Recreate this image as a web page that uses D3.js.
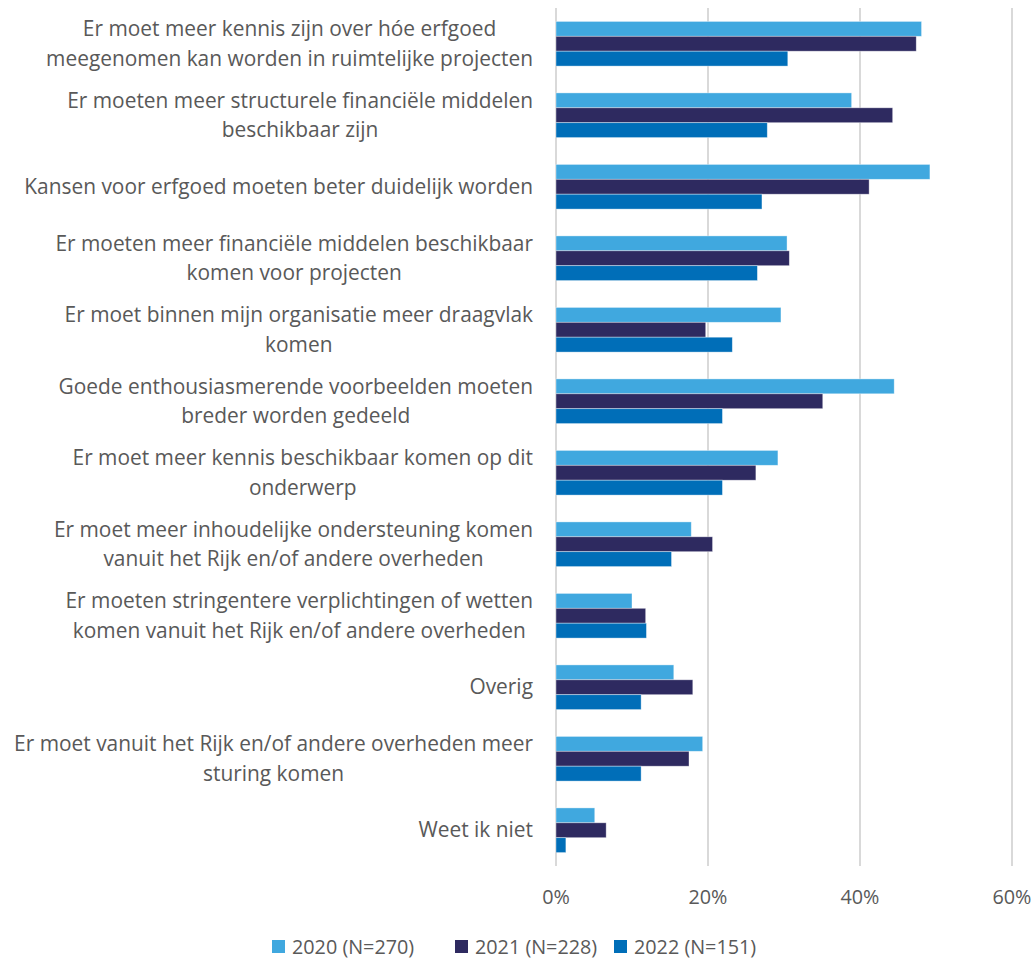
<!DOCTYPE html>
<html>
<head>
<meta charset="utf-8">
<script src="https://cdn.jsdelivr.net/npm/d3@7"></script>
<style>
  body { margin: 0; background: #fff; }
  svg text { font-family: "Open Sans", Lato, sans-serif; fill: #595959; }
</style>
</head>
<body>
<script>
// Categories, each as the lines they wrap to
var categories = [
    ["Er moet meer kennis zijn over hóe erfgoed", "meegenomen kan worden in ruimtelijke projecten"],
    ["Er moeten meer structurele financiële middelen", "beschikbaar zijn"],
    ["Kansen voor erfgoed moeten beter duidelijk worden"],
    ["Er moeten meer financiële middelen beschikbaar", "komen voor projecten"],
    ["Er moet binnen mijn organisatie meer draagvlak", "komen"],
    ["Goede enthousiasmerende voorbeelden moeten", "breder worden gedeeld"],
    ["Er moet meer kennis beschikbaar komen op dit", "onderwerp"],
    ["Er moet meer inhoudelijke ondersteuning komen", "vanuit het Rijk en/of andere overheden"],
    ["Er moeten stringentere verplichtingen of wetten", "komen vanuit het Rijk en/of andere overheden"],
    ["Overig"],
    ["Er moet vanuit het Rijk en/of andere overheden meer", "sturing komen"],
    ["Weet ik niet"]
];

var seriesNames = ["2020 (N=270)", "2021 (N=228)", "2022 (N=151)"];
var seriesColors = ["#40a8df", "#2e2a60", "#006eb8"];

// percentages
var values2020 = [48.1, 38.9, 49.2, 30.4, 29.6, 44.5, 29.2, 17.8, 10.0, 15.5, 19.3, 5.1];
var values2021 = [47.4, 44.3, 41.2, 30.7, 19.7, 35.1, 26.3, 20.6, 11.8, 18.0, 17.5, 6.6];
var values2022 = [30.5, 27.8, 27.1, 26.5, 23.2, 21.9, 21.9, 15.2, 11.9, 11.2, 11.2, 1.3];

var tickValues = [0, 20, 40, 60];

var width = 1036,
    height = 960;

var svg = d3.select("body")
    .append("svg")
    .attr("width", width)
    .attr("height", height);

// plot area edges (note: "top" is reserved on window)
var plotLeft = 556, plotRight = 1012, plotTop = 8, plotBottom = 866;

var x = d3.scaleLinear()
    .domain([0, 60])
    .range([plotLeft, plotRight]);

var idx = d3.range(categories.length);

var y = d3.scaleBand()
    .domain(idx)
    .range([plotTop, plotBottom])
    .paddingInner(0.375)
    .paddingOuter(0.1875);

var ySub = d3.scaleBand()
    .domain([0, 1, 2])
    .range([0, y.bandwidth()]);

// gridlines
svg.append("g")
    .selectAll("line")
    .data(tickValues)
    .enter()
    .append("line")
    .attr("x1", function(d){ return x(d); })
    .attr("x2", function(d){ return x(d); })
    .attr("y1", plotTop)
    .attr("y2", plotBottom)
    .attr("stroke", "#d9d9d9")
    .attr("stroke-width", 2);

// tick labels
svg.append("g")
    .selectAll("text")
    .data(tickValues)
    .enter()
    .append("text")
    .attr("x", function(d){ return x(d); })
    .attr("y", 904)
    .attr("text-anchor", "middle")
    .style("font-size", "19.8px")
    .text(function(d){ return d + "%"; });

// bars
var allSeries = [values2020, values2021, values2022];
allSeries.forEach(function(vals, s){
    svg.append("g")
        .selectAll("rect")
        .data(vals)
        .enter()
        .append("rect")
        .attr("x", x(0))
        .attr("y", function(d, i){ return y(i) + ySub(s); })
        .attr("width", function(d){ return x(d) - x(0); })
        .attr("height", ySub.bandwidth())
        .attr("fill", seriesColors[s])
        .attr("stroke", "#ffffff")
        .attr("stroke-opacity", 0.5)
        .attr("stroke-width", 0.75);
});

// category labels: block right-aligned, wrapped lines centred in the block
var lineH = 29.5;
var labelRight = 533;
idx.forEach(function(i){
    var lines = categories[i];
    var g = svg.append("g");
    var cy = y(i) + y.bandwidth() / 2;
    var texts = g.selectAll("text")
        .data(lines)
        .enter()
        .append("text")
        .attr("y", function(d, k){ return cy + (k - (lines.length - 1) / 2) * lineH + 7; })
        .attr("text-anchor", "middle")
        .style("font-size", "20.9px")
        .text(function(d){ return d; });
    var maxW = 0;
    texts.each(function(){ maxW = Math.max(maxW, this.getComputedTextLength()); });
    texts.attr("x", labelRight - maxW / 2);
});

// legend
var legendX = [272, 455, 614];
var legend = svg.append("g")
    .selectAll("g")
    .data(seriesNames)
    .enter()
    .append("g")
    .attr("transform", function(d, i){ return "translate(" + legendX[i] + ",940)"; });

legend.append("rect")
    .attr("width", 13)
    .attr("height", 13)
    .attr("fill", function(d, i){ return seriesColors[i]; });

legend.append("text")
    .attr("x", 20)
    .attr("y", 13.5)
    .style("font-size", "19.8px")
    .text(function(d){ return d; });
</script>
</body>
</html>
